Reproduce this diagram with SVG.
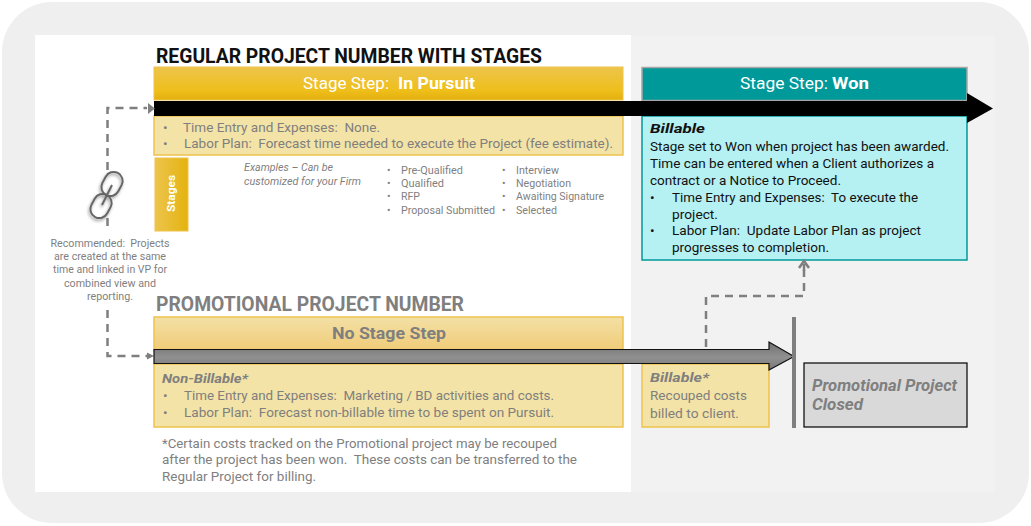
<svg xmlns="http://www.w3.org/2000/svg" width="1031" height="526" viewBox="0 0 1031 526">
<style>
text{font-family:Roboto,"Liberation Sans",sans-serif;font-size:13.5px;fill:#7f7f7f;white-space:pre}
.k{fill:#111}.w{fill:#fff}.b{font-weight:700}.i{font-style:italic}
.sm{font-size:10.5px}.md{font-size:16.5px}.h{font-size:19.5px;font-weight:700}
.pale{fill:#f4e3a6;stroke:#eec24c;stroke-width:1.5}
.dash{fill:none;stroke:#7f7f7f;stroke-width:2.5;stroke-dasharray:8 6}
.tri{fill:#7f7f7f}
.link{fill:none;stroke:#666;stroke-width:2}
</style>
<defs>
<linearGradient id="gold" x1="0" y1="0" x2="0" y2="1"><stop offset="0" stop-color="#edc44c"/><stop offset=".7" stop-color="#efbf1c"/><stop offset="1" stop-color="#e3b00e"/></linearGradient>
<linearGradient id="goldH" x1="0" y1="0" x2="1" y2="0"><stop offset="0" stop-color="#edc44c"/><stop offset="1" stop-color="#e4b30f"/></linearGradient>
<linearGradient id="pale" x1="0" y1="0" x2="0" y2="1"><stop offset="0" stop-color="#f3e0a6"/><stop offset="1" stop-color="#f0cc78"/></linearGradient>
<linearGradient id="grey" x1="0" y1="0" x2="0" y2="1"><stop offset="0" stop-color="#707070"/><stop offset=".55" stop-color="#909090"/><stop offset="1" stop-color="#787878"/></linearGradient>
<filter id="sh" x="-40%" y="-40%" width="180%" height="180%"><feDropShadow dx="-1" dy="2" stdDeviation="1.5" flood-color="#000" flood-opacity=".4"/></filter>
</defs>

<g id="background">
<rect x="2" y="2" width="1027" height="521" rx="50" fill="#efefef"/>
<rect x="631" y="36" width="364" height="456" fill="#f2f2f2"/>
<rect x="35" y="35" width="596" height="457" fill="#fff"/>
</g>

<g id="regular-title"><text class="h k" x="156" y="63" textLength="386" lengthAdjust="spacingAndGlyphs">REGULAR PROJECT NUMBER WITH STAGES</text></g>

<g id="in-pursuit-panel">
<rect class="pale" x="154" y="116" width="469" height="39"/>
<text x="163" y="132">•</text><text x="183" y="132" textLength="197" lengthAdjust="spacingAndGlyphs">Time Entry and Expenses:  None.</text>
<text x="163" y="148">•</text><text x="184" y="148" textLength="429" lengthAdjust="spacingAndGlyphs">Labor Plan:  Forecast time needed to execute the Project (fee estimate).</text>
</g>
<g id="in-pursuit-header">
<rect x="154" y="67" width="469" height="33" fill="url(#gold)" stroke="#eec24c"/>
<text class="md w" x="303" y="89" textLength="86" lengthAdjust="spacingAndGlyphs">Stage Step:</text>
<text class="md w b" x="398" y="89" textLength="77" lengthAdjust="spacingAndGlyphs">In Pursuit</text>
</g>

<g id="won-panel">
<rect x="642" y="116" width="325" height="144" fill="#b5f0f2" stroke="#009999" stroke-width="1.5"/>
<text class="k b i" x="650" y="133" textLength="55" lengthAdjust="spacingAndGlyphs">Billable</text>
<text class="k" x="650" y="151" textLength="299" lengthAdjust="spacingAndGlyphs">Stage set to Won when project has been awarded.</text>
<text class="k" x="650" y="168" textLength="284" lengthAdjust="spacingAndGlyphs">Time can be entered when a Client authorizes a</text>
<text class="k" x="650" y="185" textLength="191" lengthAdjust="spacingAndGlyphs">contract or a Notice to Proceed.</text>
<text class="k" x="650" y="202">•</text><text class="k" x="672" y="202" textLength="246" lengthAdjust="spacingAndGlyphs">Time Entry and Expenses:  To execute the</text>
<text class="k" x="672" y="219" textLength="46" lengthAdjust="spacingAndGlyphs">project.</text>
<text class="k" x="650" y="235">•</text><text class="k" x="672" y="235" textLength="249" lengthAdjust="spacingAndGlyphs">Labor Plan:  Update Labor Plan as project</text>
<text class="k" x="672" y="252" textLength="157" lengthAdjust="spacingAndGlyphs">progresses to completion.</text>
</g>
<g id="won-header">
<rect x="642" y="67.5" width="325" height="33" fill="#009999" stroke="#a6a6a6" stroke-width="1.5"/>
<text class="md w" x="740" y="89" textLength="88" lengthAdjust="spacingAndGlyphs">Stage Step:</text>
<text class="md w b" x="832" y="89" textLength="37" lengthAdjust="spacingAndGlyphs">Won</text>
</g>

<g id="regular-arrow"><polygon points="154,101 967,101 967,93 993,108.5 967,123 967,116 154,116" fill="#000"/></g>

<g id="stages">
<rect x="155" y="158" width="33" height="73" fill="url(#goldH)" stroke="#eec24c"/>
<text class="w b" style="font-size:11px" transform="translate(175 212) rotate(-90)" textLength="37" lengthAdjust="spacingAndGlyphs">Stages</text>
</g>
<g id="examples">
<text class="sm i" x="244" y="171" textLength="89" lengthAdjust="spacingAndGlyphs">Examples – Can be</text>
<text class="sm i" x="244" y="185" textLength="117" lengthAdjust="spacingAndGlyphs">customized for your Firm</text>
<text class="sm" x="387" y="174">•</text><text class="sm" x="401" y="174" textLength="62" lengthAdjust="spacingAndGlyphs">Pre-Qualified</text>
<text class="sm" x="387" y="187">•</text><text class="sm" x="401" y="187" textLength="43" lengthAdjust="spacingAndGlyphs">Qualified</text>
<text class="sm" x="387" y="200">•</text><text class="sm" x="401" y="200" textLength="19" lengthAdjust="spacingAndGlyphs">RFP</text>
<text class="sm" x="387" y="214">•</text><text class="sm" x="401" y="214" textLength="94" lengthAdjust="spacingAndGlyphs">Proposal Submitted</text>
<text class="sm" x="502" y="174">•</text><text class="sm" x="516" y="174" textLength="43" lengthAdjust="spacingAndGlyphs">Interview</text>
<text class="sm" x="502" y="187">•</text><text class="sm" x="516" y="187" textLength="55" lengthAdjust="spacingAndGlyphs">Negotiation</text>
<text class="sm" x="502" y="200">•</text><text class="sm" x="516" y="200" textLength="88" lengthAdjust="spacingAndGlyphs">Awaiting Signature</text>
<text class="sm" x="502" y="214">•</text><text class="sm" x="516" y="214" textLength="41" lengthAdjust="spacingAndGlyphs">Selected</text>
</g>

<g id="connectors">
<path class="dash" d="M107.5 170V108H147"/>
<polygon class="tri" points="148,103 155,108.5 148,114"/>
<path class="dash" d="M107.5 218V232"/>
<path class="dash" d="M107.5 310V356H147"/>
<polygon class="tri" points="147,352.500 154,356 147,359.500"/>
<path class="dash" d="M706 347V296H804V270"/>
<path fill="none" stroke="#7f7f7f" stroke-width="2.5" d="M804 264V271M799 268L804 261L809 268"/>
</g>

<g id="link-icon" filter="url(#sh)">
<rect class="link" x="-9" y="-12.500" width="18" height="25" rx="9" transform="translate(112 184) rotate(28)"/>
<rect class="link" x="-9" y="-12.500" width="18" height="25" rx="9" transform="translate(101 206) rotate(28)"/>
<path class="link" d="M112 185L102 205"/>
</g>
<g id="recommended">
<text class="sm" text-anchor="middle" x="110" y="247" textLength="119" lengthAdjust="spacingAndGlyphs">Recommended:  Projects</text>
<text class="sm" text-anchor="middle" x="110" y="260" textLength="112" lengthAdjust="spacingAndGlyphs">are created at the same</text>
<text class="sm" text-anchor="middle" x="110" y="273" textLength="114" lengthAdjust="spacingAndGlyphs">time and linked in VP for</text>
<text class="sm" text-anchor="middle" x="110" y="287" textLength="92" lengthAdjust="spacingAndGlyphs">combined view and</text>
<text class="sm" text-anchor="middle" x="110" y="300" textLength="46" lengthAdjust="spacingAndGlyphs">reporting.</text>
</g>

<g id="promo-title"><text class="h" x="156" y="311" textLength="308" lengthAdjust="spacingAndGlyphs">PROMOTIONAL PROJECT NUMBER</text></g>
<g id="non-billable-panel">
<rect x="154" y="317" width="469" height="33" fill="url(#pale)" stroke="#eec24c" stroke-width="1.5"/>
<text class="md b" x="332" y="339" textLength="114" lengthAdjust="spacingAndGlyphs">No Stage Step</text>
<rect class="pale" x="154" y="364" width="469" height="63"/>
<text class="b i" x="162" y="383" textLength="86" lengthAdjust="spacingAndGlyphs">Non-Billable*</text>
<text x="163" y="400">•</text><text x="184" y="400" textLength="370" lengthAdjust="spacingAndGlyphs">Time Entry and Expenses:  Marketing / BD activities and costs.</text>
<text x="163" y="417">•</text><text x="184" y="417" textLength="370" lengthAdjust="spacingAndGlyphs">Labor Plan:  Forecast non-billable time to be spent on Pursuit.</text>
</g>
<g id="footnote">
<text x="162" y="448" textLength="395" lengthAdjust="spacingAndGlyphs">*Certain costs tracked on the Promotional project may be recouped</text>
<text x="162" y="464" textLength="415" lengthAdjust="spacingAndGlyphs">after the project has been won.  These costs can be transferred to the</text>
<text x="162" y="481" textLength="154" lengthAdjust="spacingAndGlyphs">Regular Project for billing.</text>
</g>
<g id="billable-panel">
<rect class="pale" x="642" y="364" width="127" height="63"/>
<text class="b i" x="650" y="382" textLength="59" lengthAdjust="spacingAndGlyphs">Billable*</text>
<text x="650" y="400" textLength="97" lengthAdjust="spacingAndGlyphs">Recouped costs</text>
<text x="650" y="418" textLength="89" lengthAdjust="spacingAndGlyphs">billed to client.</text>
</g>
<g id="promo-arrow"><polygon points="154,349.500 769,349.500 769,342 794,356.500 769,370 769,363.500 154,363.500" fill="url(#grey)" stroke="#111" stroke-width="1.2"/></g>
<g id="close-bar"><rect x="792" y="317" width="4" height="111" fill="#7f7f7f"/></g>
<g id="closed">
<rect x="804" y="363" width="163" height="64" fill="#d9d9d9" stroke="#000" stroke-width="1.2"/>
<text class="b i" style="font-size:16px" x="812" y="391" textLength="145" lengthAdjust="spacingAndGlyphs">Promotional Project</text>
<text class="b i" style="font-size:16px" x="812" y="410" textLength="51" lengthAdjust="spacingAndGlyphs">Closed</text>
</g>
</svg>
